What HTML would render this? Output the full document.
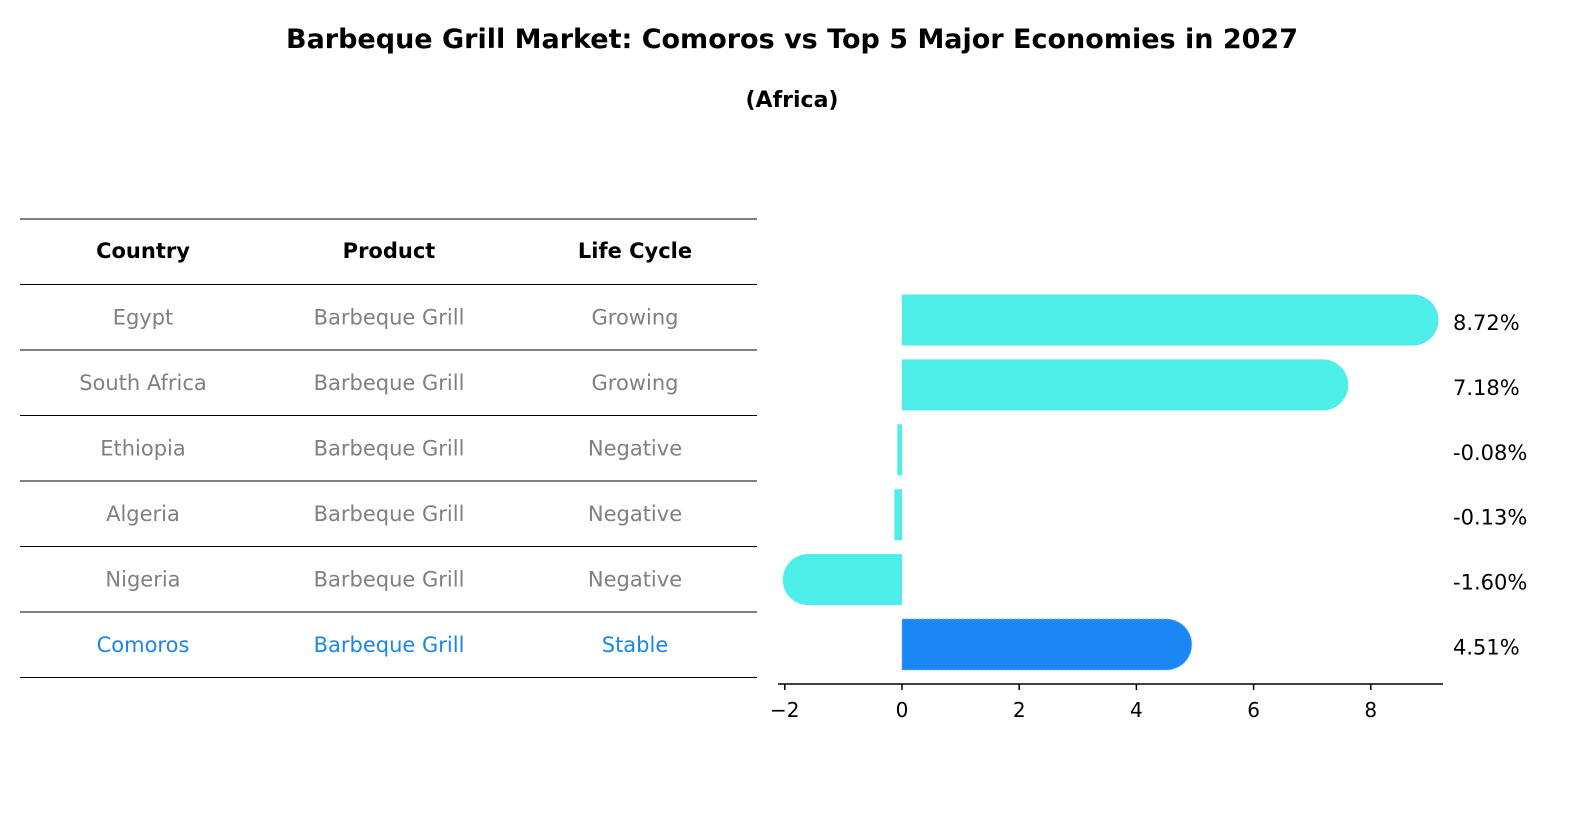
<!DOCTYPE html>
<html><head><meta charset="utf-8"><style>
html,body{margin:0;padding:0;background:#fff;overflow:hidden;width:1596px;height:823px}
svg{display:block}
</style></head><body>
<svg width="1596" height="823" viewBox="0 0 1596 823" style="font-family:'DejaVu Sans','Liberation Sans',sans-serif">
<text x="792" y="48" text-anchor="middle" font-size="27" font-weight="bold">Barbeque Grill Market: Comoros vs Top 5 Major Economies in 2027</text>
<text x="792" y="107" text-anchor="middle" font-size="22" font-weight="bold">(Africa)</text>
<g id="table"></g>
<g id="bars"></g>
</svg>
<script>
const countries=["Egypt","South Africa","Ethiopia","Algeria","Nigeria","Comoros"];
const products=["Barbeque Grill","Barbeque Grill","Barbeque Grill","Barbeque Grill","Barbeque Grill","Barbeque Grill"];
const lifeCycles=["Growing","Growing","Negative","Negative","Negative","Stable"];
const growthValues=[8.72,7.18,-0.08,-0.13,-1.60,4.51];
const tickValues=[-2,0,2,4,6,8];
const NS="http://www.w3.org/2000/svg";
function mk(tag,attrs,parent,txt){const e=document.createElementNS(NS,tag);for(const k in attrs)e.setAttribute(k,attrs[k]);if(txt!==undefined)e.textContent=txt;parent.appendChild(e);return e;}
const tb=document.getElementById('table');
const rowY=i=>219+65.5*i;
for(let i=0;i<=7;i++){const l=mk('line',{x1:20,x2:757,y1:rowY(i),y2:rowY(i),stroke:'#000','stroke-width':1},tb);

}
const colX=[143,389,635];
["Country","Product","Life Cycle"].forEach((h,j)=>{const t=mk('text',{x:colX[j],y:rowY(0)+39,'text-anchor':'middle','font-size':21,'font-weight':'bold'},tb,h);

});
countries.forEach((c,i)=>{const col=i===countries.length-1?'#1a87e8':'#808080';
[c,products[i],lifeCycles[i]].forEach((v,j)=>{const t=mk('text',{x:colX[j],y:rowY(i+1)+40,'text-anchor':'middle','font-size':21,fill:col},tb,v);

});});
const bg=document.getElementById('bars');
const xS=v=>902+v*58.6;
const yC=i=>320+64.9*i;
const bh=51;
growthValues.forEach((v,i)=>{const last=i===growthValues.length-1;const col=last?'#1a87f5':'#4deee8';
const x0=xS(0),x1=xS(v);const r=bh/2;const yc=yC(i);
let d;
if(Math.abs(x1-x0)<20){d=`M${Math.min(x0,x1)} ${yc-r}H${Math.max(x0,x1)}V${yc+r}H${Math.min(x0,x1)}Z`;}
else if(v>=0){d=`M${x0} ${yc-r}H${x1}A${r} ${r} 0 0 1 ${x1} ${yc+r}H${x0}Z`;}
else{d=`M${x0} ${yc-r}H${x1}A${r} ${r} 0 0 0 ${x1} ${yc+r}H${x0}Z`;}
const p=mk('path',{d:d,fill:col},bg);
if(last){p.setAttribute('stroke','#6fb8f5');p.setAttribute('stroke-dasharray','2 2');}


const t=mk('text',{x:1453,y:yc+10,'font-size':21},bg,v.toFixed(2)+'%');

});
const ax=mk('line',{x1:778,x2:1443,y1:684,y2:684,stroke:'#000','stroke-width':1.5},bg);


tickValues.forEach(v=>{const tk=mk('line',{x1:xS(v),x2:xS(v),y1:684,y2:690,stroke:'#000','stroke-width':1.5},bg);


const t=mk('text',{x:xS(v),y:717,'text-anchor':'middle','font-size':20},bg,v<0?'\u2212'+Math.abs(v):String(v));

});
</script>
</body></html>
